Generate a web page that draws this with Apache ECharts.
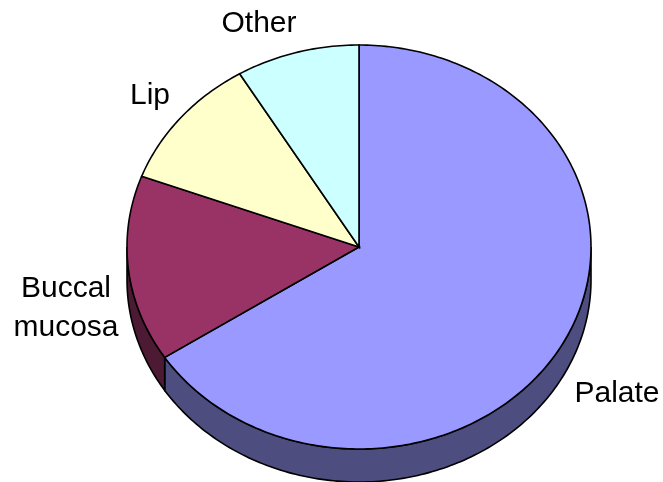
<!DOCTYPE html>
<html>
<head>
<meta charset="utf-8">
<style>html,body{margin:0;padding:0;background:#fff}#main{width:663px;height:482px}</style>
<script src="https://cdn.jsdelivr.net/npm/echarts@6/dist/echarts.min.js"></script>
</head>
<body>
<div id="main"></div>
<script>
// slice order runs clockwise from 12 o'clock
var categories = ['Palate', 'Buccal\nmucosa', 'Lip', 'Other'];
var shares = [65.8, 14.9, 10.7, 8.6];
var topColors = ['#9999ff', '#993366', '#ffffcc', '#ccffff'];
var wallColors = ['#4d4d80', '#4d1a33', '#80806a', '#668080'];

var CX = 359, CY = 247, RX = 232, RY = 202, DEPTH = 33;
var total = shares.reduce(function (a, b) { return a + b; }, 0);

function pt(angle, drop) {
    return [CX + RX * Math.sin(angle), CY - RY * Math.cos(angle) + (drop || 0)];
}

function arc(from, to, drop) {
    var pts = [];
    var n = Math.max(2, Math.ceil(Math.abs(to - from) * 60));
    for (var i = 0; i <= n; i++) {
        pts.push(pt(from + (to - from) * i / n, drop));
    }
    return pts;
}

function startOf(idx) {
    var sum = 0;
    for (var i = 0; i < idx; i++) sum += shares[i];
    return sum / total * Math.PI * 2;
}

function renderSlice(params, api) {
    var idx = params.dataIndex;
    var from = startOf(idx);
    var to = from + api.value(0) / total * Math.PI * 2;
    var children = [];
    // side wall only shows on the front half
    var a = Math.max(from, Math.PI / 2), b = Math.min(to, Math.PI * 1.5);
    if (b > a) {
        var wall = arc(a, b, 0).concat(arc(b, a, DEPTH));
        children.push({
            type: 'polygon',
            shape: { points: wall },
            style: { fill: wallColors[idx], stroke: '#000', lineWidth: 1.6 }
        });
    }
    var top = [[CX, CY]].concat(arc(from, to, 0));
    children.push({
        type: 'polygon',
        z2: 5,
        shape: { points: top },
        style: { fill: topColors[idx], stroke: '#000', lineWidth: 1.6 }
    });
    return { type: 'group', children: children };
}

var chart = echarts.init(document.getElementById('main'), null, { renderer: 'canvas' });
var labelStyle = { fontFamily: 'Liberation Sans', fontSize: 30, fill: '#000', textAlign: 'center', textVerticalAlign: 'middle', lineHeight: 39 };

chart.setOption({
    animation: false,
    backgroundColor: '#fff',
    series: [{
        type: 'custom',
        coordinateSystem: 'none',
        renderItem: renderSlice,
        data: shares.map(function (v) { return [v]; })
    }],
    graphic: [
        { type: 'text', x: 617, y: 394, style: Object.assign({ text: categories[0] }, labelStyle) },
        { type: 'text', x: 66, y: 308, style: Object.assign({ text: categories[1] }, labelStyle) },
        { type: 'text', x: 150, y: 96, style: Object.assign({ text: categories[2] }, labelStyle) },
        { type: 'text', x: 259, y: 24, style: Object.assign({ text: categories[3] }, labelStyle) }
    ]
});
</script>
</body>
</html>
